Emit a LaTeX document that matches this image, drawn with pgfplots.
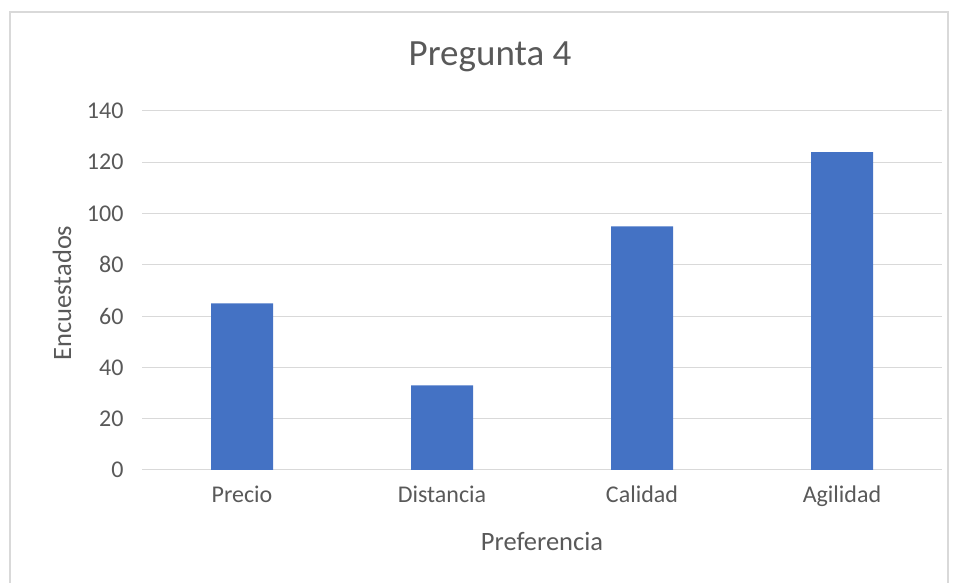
\documentclass[border=0pt]{standalone}
\usepackage{pgfplots}
\pgfplotsset{compat=1.18}
\usepackage{fontspec}
\setmainfont{Carlito}
\definecolor{txt}{HTML}{595959}
\definecolor{grd}{HTML}{D9D9D9}
\definecolor{bar}{HTML}{4472C4}
\begin{document}
\begin{tikzpicture}[x=1pt,y=1pt]
\useasboundingbox (0,0) rectangle (958,583);
\draw[grd,line width=1.2pt] (10,0) -- (10,571) -- (948,571) -- (948,0);
\begin{axis}[
  at={(142pt,113pt)}, anchor=south west,
  scale only axis, width=800pt, height=359pt,
  xmin=-0.5, xmax=3.5, ymin=0, ymax=140,
  ytick={0,20,...,140},
  xtick={0,1,2,3},
  xticklabels={Precio,Distancia,Calidad,Agilidad},
  ymajorgrids, grid style={grd,line width=1pt},
  axis line style={draw=none},
  axis x line*=bottom,
  x axis line style={grd,line width=1.2pt},
  major tick length=0pt,
  tick label style={font=\fontsize{24}{24}\selectfont, text=txt},
  yticklabel style={xshift=-15pt},
  xticklabel style={yshift=-12pt},
  /pgf/number format/assume math mode=true,
  clip=false,
]
\addplot[ybar, bar width=62pt, fill=bar, draw=none] coordinates {(0,65) (1,33) (2,95) (3,124)};
\end{axis}
\node[text=txt, font=\fontsize{37}{37}\selectfont] at (490,526) {Pregunta 4};
\node[text=txt, font=\fontsize{26.5}{26.5}\selectfont] at (542,42) {Preferencia};
\node[text=txt, font=\fontsize{26.5}{26.5}\selectfont, rotate=90] at (62,290) {Encuestados};
\end{tikzpicture}
\end{document}
